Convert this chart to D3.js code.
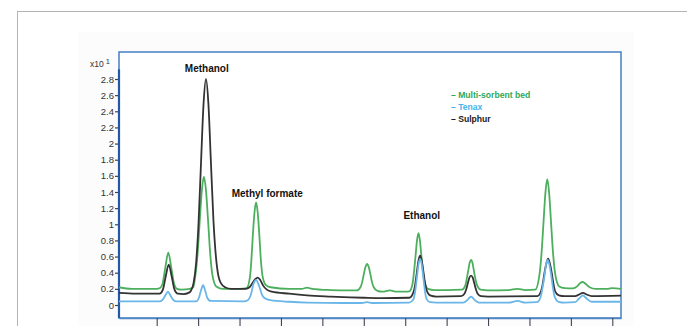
<!DOCTYPE html>
<html>
<head>
<meta charset="utf-8">
<script src="https://cdn.jsdelivr.net/npm/d3@7"></script>
<style>
  body { margin: 0; background: #fff; }
  svg { display: block; }
</style>
</head>
<body>
<div id="chart"></div>
<script>
// retention time (min) / response (x10^1)
var multiSorbent = [
  [0.09,0.22],[0.4,0.2],[0.8,0.2],[1.0,0.2],[1.08,0.21],[1.14,0.26],[1.21,0.47],[1.28,0.65],[1.35,0.47],[1.42,0.26],[1.49,0.2],
  [1.6,0.19],[1.8,0.2],[1.88,0.22],[1.94,0.39],[1.99,0.65],[2.04,1.05],[2.09,1.42],[2.14,1.59],[2.19,1.42],[2.24,1.05],[2.29,0.65],
  [2.34,0.39],[2.44,0.23],[2.6,0.2],[3.0,0.2],[3.17,0.21],[3.25,0.34],[3.285,0.55],[3.32,0.85],[3.36,1.14],[3.40,1.27],[3.44,1.14],
  [3.48,0.85],[3.515,0.56],[3.555,0.36],[3.63,0.25],[3.75,0.22],[4.2,0.2],[4.5,0.2],[4.63,0.215],[4.75,0.2],[5.2,0.185],[5.67,0.18],
  [5.83,0.18],[5.92,0.22],[5.96,0.28],[6.0,0.38],[6.04,0.47],[6.08,0.51],[6.12,0.47],[6.16,0.38],[6.20,0.28],[6.24,0.22],[6.33,0.175],
  [6.45,0.165],[6.63,0.18],[6.8,0.165],[7.0,0.165],[7.10,0.17],[7.18,0.27],[7.21,0.4],[7.25,0.61],[7.285,0.8],[7.32,0.89],[7.355,0.8],
  [7.39,0.61],[7.43,0.41],[7.47,0.28],[7.55,0.2],[7.7,0.185],[8.0,0.185],[8.37,0.19],[8.45,0.24],[8.48,0.31],[8.52,0.42],[8.555,0.52],
  [8.59,0.56],[8.625,0.52],[8.66,0.42],[8.70,0.31],[8.74,0.24],[8.82,0.19],[9.0,0.18],[9.5,0.185],[9.71,0.2],[9.9,0.185],[10.14,0.19],
  [10.24,0.37],[10.29,0.63],[10.34,1.03],[10.385,1.39],[10.43,1.56],[10.475,1.39],[10.52,1.03],[10.57,0.64],[10.62,0.39],[10.72,0.23],
  [10.85,0.21],[11.05,0.205],[11.15,0.23],[11.22,0.27],[11.29,0.285],[11.36,0.26],[11.45,0.22],[11.6,0.2],[11.9,0.2],[12.0,0.21],[12.21,0.2]
];

var sulphur = [
  [0.09,0.15],[0.5,0.14],[0.9,0.14],[1.07,0.14],[1.15,0.19],[1.22,0.36],[1.29,0.5],[1.36,0.36],[1.43,0.19],[1.51,0.14],[1.65,0.135],
  [1.77,0.15],[1.83,0.18],[1.89,0.27],[1.95,0.51],[2.01,1.01],[2.07,1.76],[2.13,2.48],[2.19,2.8],[2.25,2.48],[2.31,1.76],[2.37,1.05],
  [2.43,0.6],[2.49,0.36],[2.55,0.27],[2.65,0.22],[2.8,0.2],[3.15,0.2],[3.24,0.22],[3.31,0.27],[3.38,0.32],[3.44,0.34],[3.50,0.31],
  [3.57,0.24],[3.66,0.19],[3.78,0.165],[4.2,0.14],[4.63,0.12],[5.2,0.105],[5.67,0.095],[6.0,0.09],[6.42,0.085],[7.1,0.09],[7.2,0.16],
  [7.24,0.25],[7.28,0.4],[7.32,0.55],[7.36,0.61],[7.40,0.55],[7.44,0.41],[7.48,0.27],[7.52,0.18],[7.6,0.12],[7.75,0.105],[8.35,0.11],
  [8.43,0.14],[8.47,0.19],[8.51,0.265],[8.55,0.34],[8.59,0.365],[8.63,0.34],[8.67,0.265],[8.71,0.19],[8.75,0.14],[8.83,0.11],[9.0,0.105],
  [10.19,0.11],[10.28,0.17],[10.32,0.26],[10.36,0.39],[10.41,0.52],[10.45,0.575],[10.49,0.52],[10.54,0.39],[10.58,0.26],[10.62,0.17],
  [10.71,0.12],[10.85,0.11],[11.1,0.11],[11.2,0.13],[11.29,0.15],[11.38,0.13],[11.5,0.11],[12.21,0.115]
];

var tenax = [
  [0.09,0.045],[1.08,0.045],[1.15,0.07],[1.21,0.12],[1.27,0.165],[1.33,0.12],[1.39,0.07],[1.46,0.045],[1.95,0.045],[2.02,0.09],
  [2.07,0.18],[2.12,0.245],[2.17,0.18],[2.22,0.09],[2.3,0.05],[3.1,0.045],[3.2,0.06],[3.27,0.12],[3.33,0.25],[3.40,0.31],[3.47,0.24],
  [3.54,0.13],[3.62,0.08],[3.75,0.06],[4.2,0.04],[4.63,0.03],[5.5,0.025],[5.95,0.025],[6.08,0.035],[6.2,0.025],[7.1,0.03],[7.2,0.07],
  [7.24,0.17],[7.28,0.33],[7.32,0.5],[7.36,0.57],[7.40,0.5],[7.44,0.33],[7.48,0.16],[7.52,0.07],[7.6,0.035],[7.75,0.03],[8.4,0.03],
  [8.5,0.06],[8.55,0.09],[8.59,0.105],[8.63,0.09],[8.68,0.06],[8.78,0.03],[9.5,0.03],[9.71,0.05],[9.9,0.03],[10.18,0.035],[10.27,0.1],
  [10.31,0.2],[10.36,0.35],[10.40,0.5],[10.44,0.56],[10.48,0.5],[10.53,0.35],[10.57,0.2],[10.61,0.1],[10.7,0.04],[10.85,0.03],
  [11.1,0.035],[11.2,0.08],[11.29,0.12],[11.38,0.08],[11.5,0.04],[12.21,0.04]
];

var yTicks = [0, 0.2, 0.4, 0.6, 0.8, 1, 1.2, 1.4, 1.6, 1.8, 2, 2.2, 2.4, 2.6, 2.8];
var xTicks = [1, 2, 3, 4, 5, 6, 7, 8, 9, 10, 11, 12];

var peakNames = ["Methanol", "Methyl formate", "Ethanol"];
var peakTimes = [2.21, 3.67, 7.40];
var peakLabelValues = [2.89, 1.34, 1.06];

var legendNames = ["Multi-sorbent bed", "Tenax", "Sulphur"];
var legendColors = ["#2ea85a", "#45b4ea", "#1a1a1a"];

// page size
var W = 687, H = 326;
var box = {left: 119, top: 52, right: 621, bottom: 318};

var svg = d3.select("#chart")
  .append("svg")
    .attr("width", W)
    .attr("height", H);

// slide frame + faint picture background
svg.append("rect")
  .attr("x", 17.5).attr("y", 11.5)
  .attr("width", 720).attr("height", 400)
  .attr("fill", "#fff")
  .attr("stroke", "#b4b4b4").attr("stroke-width", 1);

svg.append("rect")
  .attr("x", 78).attr("y", 32)
  .attr("width", 556).attr("height", 300)
  .attr("fill", "#fcfcfc");

var x = d3.scaleLinear()
  .domain([0.09, 12.21])
  .range([box.left, box.right]);

var y = d3.scaleLinear()
  .domain([0, 2.8])
  .range([305, 79]);

// plot box
svg.append("rect")
  .attr("x", box.left).attr("y", box.top)
  .attr("width", box.right - box.left).attr("height", box.bottom - box.top)
  .attr("fill", "#fff")
  .attr("stroke", "#4f86c6").attr("stroke-width", 1.6);

// Y axis
var yAxis = svg.append("g")
  .attr("transform", "translate(" + box.left + ",0)")
  .call(d3.axisLeft(y).tickValues(yTicks).tickSize(4).tickPadding(1)
    .tickFormat(d => d3.format("~g")(d)));
yAxis.select(".domain").remove();
yAxis.selectAll(".tick line").attr("stroke", "#444").attr("stroke-width", 1.2);
yAxis.selectAll(".tick text")
  .attr("fill", "#333")
  .style("font-family", "'Liberation Sans Narrow', 'Arial Narrow', 'Liberation Sans', sans-serif")
  .style("font-size", "9.5px");

svg.append("line")
  .attr("x1", box.left).attr("x2", box.left)
  .attr("y1", y(2.92)).attr("y2", box.bottom)
  .attr("stroke", "#2358a6").attr("stroke-width", 2.2);

// exponent
var expo = svg.append("text")
  .attr("x", 90).attr("y", 67)
  .attr("fill", "#333")
  .style("font-family", "'Liberation Sans Narrow', 'Arial Narrow', 'Liberation Sans', sans-serif")
  .style("font-size", "8.5px");
expo.append("tspan").text("x10");
expo.append("tspan").attr("dx", 2).attr("dy", -3).style("font-size", "7.5px").text("1");

// X axis ticks (their labels are cut off in the picture)
var xAxis = svg.append("g")
  .attr("transform", "translate(0," + box.bottom + ")")
  .call(d3.axisBottom(x).tickValues(xTicks).tickSize(12).tickSizeOuter(0).tickFormat(""));
xAxis.select(".domain").attr("stroke", "#4f86c6").attr("stroke-width", 1.6);
xAxis.selectAll(".tick line").attr("stroke", "#445").attr("stroke-width", 1.1);

// lines
var line = d3.line()
  .x(d => x(d[0]))
  .y(d => y(d[1]))
  .curve(d3.curveMonotoneX);

var series = [
  {data: multiSorbent, color: "#4caf5e"},
  {data: sulphur, color: "#333333"},
  {data: tenax, color: "#6bb6e8"}
];

series.forEach(s => {
  svg.append("path")
    .datum(s.data)
    .attr("fill", "none")
    .attr("stroke", s.color)
    .attr("stroke-width", 1.8)
    .attr("stroke-linejoin", "round")
    .attr("d", line);
});

// peak names
peakNames.forEach((name, i) => {
  svg.append("text")
    .attr("x", x(peakTimes[i]))
    .attr("y", y(peakLabelValues[i]))
    .attr("text-anchor", "middle")
    .attr("fill", "#111")
    .style("font-family", "'Liberation Sans', Arial, sans-serif")
    .style("font-weight", "bold")
    .style("font-size", "10px")
    .text(name);
});

// legend
legendNames.forEach((name, i) => {
  svg.append("text")
    .attr("x", 451)
    .attr("y", 98 + i * 12)
    .attr("fill", legendColors[i])
    .style("font-family", "'Liberation Sans Narrow', 'Liberation Sans', sans-serif")
    .style("font-weight", "bold")
    .style("font-size", "8.6px")
    .text("\u2013 " + name);
});
</script>
</body>
</html>
